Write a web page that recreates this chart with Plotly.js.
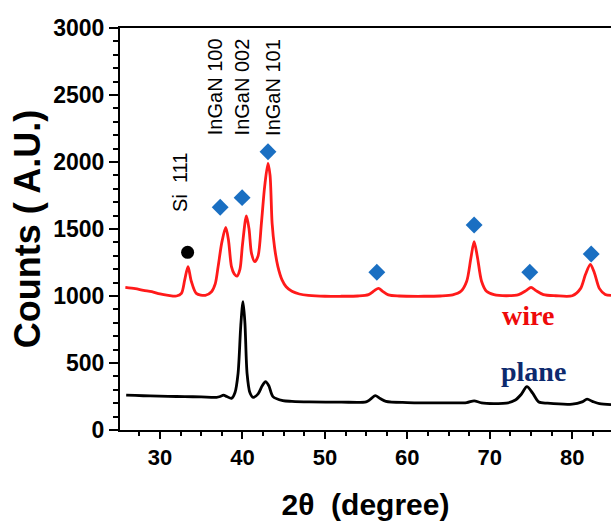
<!DOCTYPE html>
<html>
<head>
<meta charset="utf-8">
<script src="https://cdn.plot.ly/plotly-3.0.1.min.js"></script>
<style>html,body{margin:0;padding:0;background:#fff;}#chart{width:611px;height:521px;}</style>
</head>
<body>
<div id="chart"></div>
<script>
// wire (red) XRD pattern
const wireX = [25.8,27,28,29,30,31,32,32.6,33.0,33.4,33.8,34.4,35.5,36.25,36.7,37.05,37.5,37.97,38.3,38.67,39.0,39.35,39.7,40.0,40.48,40.8,41.1,41.5,41.9,42.3,42.7,43.1,43.35,43.6,43.9,44.3,44.8,45.3,46.0,46.9,48,50,52,54,55.3,56.0,56.5,57.0,57.7,59,62,64,65.5,66.5,67.2,67.7,68.1,68.5,69.0,69.6,70.5,72,73.5,74.4,75.0,75.6,76.5,78,80,81.0,81.6,82.2,82.7,83.3,84.0,84.7];
const wireY = [1065,1055,1042,1032,1015,1005,1000,1020,1120,1219,1110,1020,1005,1032,1090,1219,1400,1512,1420,1219,1165,1149,1200,1380,1597,1500,1318,1256,1300,1542,1820,1990,1900,1542,1360,1219,1120,1069,1035,1015,1005,998,998,1000,1010,1040,1057,1035,1008,1000,998,1000,1008,1035,1110,1280,1405,1290,1110,1035,1010,1002,1010,1040,1065,1040,1010,1002,1002,1055,1160,1236,1170,1055,1012,1005];
// plane (black) XRD pattern
const planeX = [25.9,27,28.8,31,33,35,36.85,37.3,37.7,38.1,38.67,39.1,39.47,39.8,40.07,40.3,40.56,40.9,41.3,41.9,42.4,42.8,43.2,43.7,44.9,46,48.1,52,55,55.5,56.1,56.7,57.4,60,65,67.2,68.1,69,72,73.1,73.8,74.5,75.2,75.95,77,80,81.2,81.8,82.5,83.3,84.7];
const planeY = [261,258,254,251,249,247,244,250,261,250,236,280,423,780,958,800,423,280,244,270,330,361,330,249,219,214,210,208,210,228,256,235,214,205,202,204,218,203,200,224,265,323,275,209,200,193,210,230,212,196,190];
// peak markers
const inganX = [37.3,39.96,43.1,56.3,68.1,74.85,82.3];
const inganY = [1662,1734,2077,1177,1530,1177,1313];
const siX = [33.35];
const siY = [1326];
// annotation labels
const labelText = ["Si  111","InGaN 100","InGaN 002","InGaN 101"];
const labelX = [32.36,36.7,40.0,43.7];
const labelY = [1847,2560,2560,2560];
const sampleText = ["wire","plane"];
const sampleX = [74.6,75.3];
const sampleY = [858,440];
const sampleColor = ["#ee0a0a","#0d2a6e"];
// tick labels
const xTicks = [30,40,50,60,70,80];
const yTicks = [0,500,1000,1500,2000,2500,3000];

const traces = [
  {x: wireX, y: wireY, mode:'lines', line:{color:'#ff1a1a', width:2.8, shape:'spline', smoothing:0.8}, hoverinfo:'skip'},
  {x: planeX, y: planeY, mode:'lines', line:{color:'#000000', width:2.8, shape:'spline', smoothing:0.8}, hoverinfo:'skip'},
  {x: inganX, y: inganY, mode:'markers', marker:{symbol:'diamond', size:13, color:'#1a6fc2'}},
  {x: siX, y: siY, mode:'markers', marker:{symbol:'circle', size:13, color:'#000000'}}
];

const annotations = [];
labelText.forEach((t,i)=>annotations.push({x:labelX[i], y:labelY[i], xref:'x', yref:'y', text:t, showarrow:false, textangle:-90,
  font:{family:'Liberation Sans, Arial', size:20, color:'#000'}}));
sampleText.forEach((t,i)=>annotations.push({x:sampleX[i], y:sampleY[i], xref:'x', yref:'y', text:'<b>'+t+'</b>', showarrow:false,
  font:{family:'Liberation Serif, Times New Roman', size:28, color:sampleColor[i]}}));

const layout = {
  width:611, height:521,
  margin:{l:120, r:0, t:28, b:91},
  paper_bgcolor:'#fff', plot_bgcolor:'#fff',
  showlegend:false,
  xaxis:{range:[25.15,84.7], tickvals:xTicks, ticktext:xTicks.map(v=>'<b>'+v+'</b>'),
    ticks:'outside', ticklen:7, tickwidth:2, tickcolor:'#000',
    showline:true, linewidth:2, linecolor:'#000', mirror:true, showgrid:false, zeroline:false,
    tickfont:{family:'Liberation Sans, Arial', size:22, color:'#000'},
    minor:{dtick:2.5, tick0:0, ticks:'outside', ticklen:4, tickwidth:2, tickcolor:'#000'},
    title:{text:'<b>2θ  (degree)</b>', font:{family:'Liberation Sans, Arial', size:30, color:'#000'}, standoff:28}},
  yaxis:{range:[0,3000], tickvals:yTicks, ticktext:yTicks.map(v=>'<b>'+v+'</b>'),
    ticks:'outside', ticklen:9, tickwidth:2, tickcolor:'#000',
    showline:true, linewidth:2, linecolor:'#000', showgrid:false, zeroline:false,
    tickfont:{family:'Liberation Sans, Arial', size:23, color:'#000'},
    minor:{dtick:100, ticks:'outside', ticklen:5, tickwidth:2, tickcolor:'#000'},
    title:{text:'<b>Counts ( A.U.)</b>', font:{family:'Liberation Sans, Arial', size:36, color:'#000'}, standoff:2}},
  annotations: annotations
};
Plotly.newPlot('chart', traces, layout, {staticPlot:true, displayModeBar:false});
</script>
</body>
</html>
